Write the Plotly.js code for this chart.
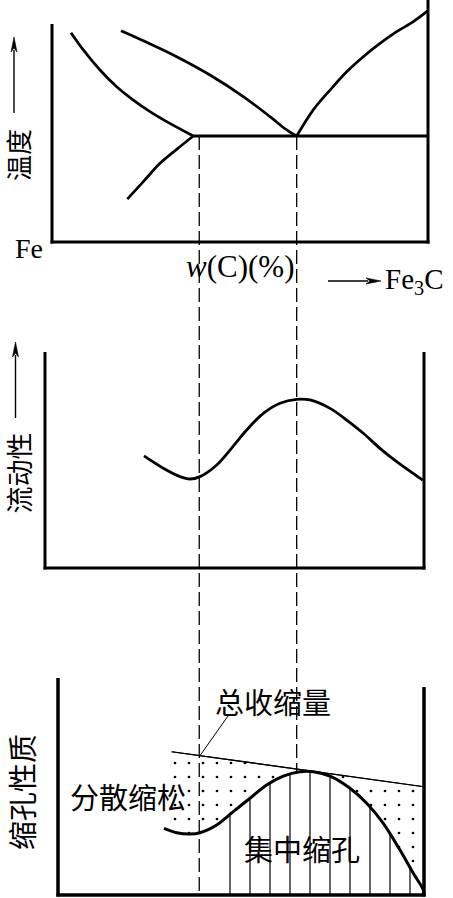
<!DOCTYPE html>
<html><head><meta charset="utf-8">
<script src="https://cdn.plot.ly/plotly-3.0.1.min.js"></script>
<style>html,body{margin:0;padding:0;background:#fff}#chart{width:453px;height:898px}</style>
</head><body><div id="chart"></div>
<script>
// ---------- DATA (x = w(C) %, y = relative level 0–100 in each panel) ----------
// Top panel: temperature (schematic Fe–C diagram)
const liqLeftX  = [0.338,0.557,0.854,1.151,1.447,1.744,2.041,2.514];
const liqLeftY  = [96.0,88.1,78.9,71.2,65.1,59.8,55.2,48.6];
const solLeftX  = [1.340,1.625,1.922,2.219,2.514];
const solLeftY  = [19.7,27.7,36.1,42.5,48.6];
const liqMidX   = [1.228,1.625,2.219,2.811,3.404,3.879,4.176,4.354];
const liqMidY   = [96.9,92.3,85.0,76.6,66.7,57.5,51.4,48.6];
const liqRightX = [4.354,4.649,4.947,5.244,5.539,5.836,6.133,6.429,6.685];
const liqRightY = [48.6,60.6,69.7,78.1,85.0,91.1,96.5,101.1,106.0];
const eutecticX = [2.514,6.69];
const eutecticY = [48.6,48.6];
// reference compositions (dashed lines)
const markW = [2.62,4.354];

// Middle panel: fluidity
const fluidX = [1.637,1.980,2.278,2.456,2.633,2.931,3.167,3.464,3.760,4.057,4.354,4.591,4.947,5.244,5.539,5.836,6.133,6.596];
const fluidY = [51.9,46.2,42.3,41.2,42.3,47.7,54.6,63.9,71.6,76.3,78.1,77.8,73.9,68.5,62.4,55.4,49.2,40.7];

// Bottom panel: shrinkage
const totalX = [2.130,6.619];
const totalY = [66.0,49.9];
const cavityX = [1.993,2.219,2.456,2.633,2.931,3.226,3.523,3.820,4.116,4.413,4.649,4.947,5.302,5.600,5.895,6.192,6.429,6.607,6.619];
const cavityY = [30.7,28.7,28.1,28.7,32.3,38.4,44.6,50.7,54.8,56.8,56.8,54.8,49.2,42.3,33.0,20.7,10.0,2.3,0.0];
const hatchFromW = 2.93;
const leaderFrom = [2.633,64.2];
const leaderTo = [3.132,82.5];

// ---------- LAYOUT HELPERS ----------
const W = 453, H = 898;
const X0 = 52, XS = 56.2;                 // pixel of w=0 and pixels per %
const px = v => v / W, py = v => 1 - v / H;
function yr(b, t){ const s = (b - t) / 100; return [(b - H) / s, b / s]; }

const BLK = '#000';
const cjk = '"Noto Sans CJK SC", "Noto Sans", sans-serif';
const serif = '"Liberation Serif", "DejaVu Serif", serif';

function line(x, y, ya, w, extra){
  return Object.assign({x, y, xaxis:'x', yaxis:ya, mode:'lines', type:'scatter',
    line:{color:BLK, width:w, shape:'spline', smoothing:1}, hoverinfo:'skip', showlegend:false}, extra||{});
}

const hx = [], hy = [];
cavityX.forEach((x,i)=>{ if(x >= hatchFromW){ hx.push(x); hy.push(cavityY[i]); } });

const traces = [
  line(liqLeftX, liqLeftY, 'y', 2.7),
  line(solLeftX, solLeftY, 'y', 2.7),
  line(liqMidX, liqMidY, 'y', 2.7),
  line(liqRightX, liqRightY, 'y', 2.7),
  line(eutecticX, eutecticY, 'y', 3, {line:{color:BLK, width:3}}),
  line(fluidX, fluidY, 'y2', 2.8),
  // dotted region: dispersed shrinkage between total shrinkage line and cavity curve
  line(totalX, totalY, 'y3', 1.2, {line:{color:BLK, width:1.2}}),
  line(cavityX, cavityY, 'y3', 0, {fill:'tonexty', fillcolor:BLK,
      line:{color:'rgba(0,0,0,0)', width:0, shape:'spline', smoothing:1},
      fillpattern:{shape:'.', size:14, solidity:0.03, fgcolor:BLK, bgcolor:'rgba(0,0,0,0)'}}),
  // hatched region: concentrated shrinkage
  line(hx, hy, 'y3', 0, {fill:'tozeroy', fillcolor:BLK,
      line:{color:'rgba(0,0,0,0)', width:0, shape:'spline', smoothing:1},
      fillpattern:{shape:'|', size:20, solidity:0.06, fgcolor:BLK, bgcolor:'rgba(0,0,0,0)'}}),
  line(cavityX, cavityY, 'y3', 3),
  line(totalX, totalY, 'y3', 1.2, {line:{color:BLK, width:1.2}})
];

function seg(x0,y0,x1,y1,w){
  return {type:'line', xref:'paper', yref:'paper', x0:px(x0), y0:py(y0), x1:px(x1), y1:py(y1),
          line:{color:BLK, width:w}};
}
// arrow as a line + narrow filled head (tip at (tx,ty), tail at (sx,sy))
function arrowShapes(sx, sy, tx, ty){
  const L = Math.hypot(tx-sx, ty-sy), ux = (tx-sx)/L, uy = (ty-sy)/L;
  const hl = 15, hw = 3;
  const bx = tx - ux*hl, by = ty - uy*hl;
  const p1 = [bx - uy*hw, by + ux*hw], p2 = [bx + uy*hw, by - ux*hw];
  const P = (a,b) => px(a) + ',' + py(b);
  return [
    seg(sx, sy, bx + ux*2, by + uy*2, 1.4),
    {type:'path', xref:'paper', yref:'paper',
     path:'M' + P(tx,ty) + ' L' + P(p1[0],p1[1]) + ' L' + P(tx-ux*(hl-4), ty-uy*(hl-4)) + ' L' + P(p2[0],p2[1]) + ' Z',
     fillcolor:BLK, line:{color:BLK, width:0.6}}
  ];
}
const shapes = [
  // top frame
  seg(52,24,52,243.5,3), seg(50.5,242,429.5,242,3), seg(428,0,428,243.5,3),
  // middle frame
  seg(45,352,45,569.5,3), seg(43.5,568,425.5,568,3), seg(424,352,424,569.5,3),
  // bottom frame
  seg(58,678,58,896.5,3.5), seg(56.5,895,425.5,895,3.5), seg(424,687,424,896.5,3.5),
  // dashed composition markers
  {type:'line', xref:'x', yref:'paper', x0:markW[0], x1:markW[0], y0:py(136), y1:py(895),
   line:{color:BLK, width:1.3, dash:'14px,5px'}},
  {type:'line', xref:'x', yref:'paper', x0:markW[1], x1:markW[1], y0:py(136), y1:py(771),
   line:{color:BLK, width:1.3, dash:'14px,5px'}},
  // leader for 总收缩量
  {type:'line', xref:'x', yref:'y3', x0:leaderFrom[0], y0:leaderFrom[1], x1:leaderTo[0], y1:leaderTo[1],
   line:{color:BLK, width:1}},
  ...arrowShapes(14, 113, 14, 37),
  ...arrowShapes(15.5, 418, 15.5, 342),
  ...arrowShapes(328, 281, 381, 281)
];

function txt(t, x, y, size, fam, extra){
  return Object.assign({text:t, xref:'paper', yref:'paper', x:px(x), y:py(y), showarrow:false,
    xanchor:'center', yanchor:'middle', borderpad:0, font:{family:fam, size:size, color:BLK}}, extra||{});
}
const annotations = [
  txt('温度', 17, 155, 26, cjk, {textangle:-90}),
  txt('Fe', 29, 249, 28, serif),
  txt('<i>w</i>(C)(%)', 240, 266, 31, serif),
  txt('Fe<sub>3</sub>C', 384, 281, 29, serif, {xanchor:'left'}),
  txt('流动性', 17.5, 473, 27, cjk, {textangle:-90}),
  txt('缩孔性质', 21, 792, 29, cjk, {textangle:-90}),
  txt('总收缩量', 273, 701, 29, cjk),
  txt('分散缩松', 128, 796, 29, cjk),
  txt('集中缩孔', 302, 848, 29, cjk)
];

const ax0 = {visible:false, fixedrange:true, showgrid:false, zeroline:false};
const layout = {
  width:W, height:H, margin:{l:0,r:0,t:0,b:0},
  paper_bgcolor:'#fff', plot_bgcolor:'rgba(0,0,0,0)', showlegend:false,
  xaxis:Object.assign({domain:[0,1], range:[-X0/XS, (W-X0)/XS]}, ax0),
  yaxis:Object.assign({domain:[0,1], range:yr(242,24)}, ax0),
  yaxis2:Object.assign({domain:[0,1], range:yr(568,352), overlaying:'y'}, ax0),
  yaxis3:Object.assign({domain:[0,1], range:yr(895,678), overlaying:'y'}, ax0),
  shapes, annotations
};
Plotly.newPlot('chart', traces, layout, {displayModeBar:false, staticPlot:true});
</script></body></html>
